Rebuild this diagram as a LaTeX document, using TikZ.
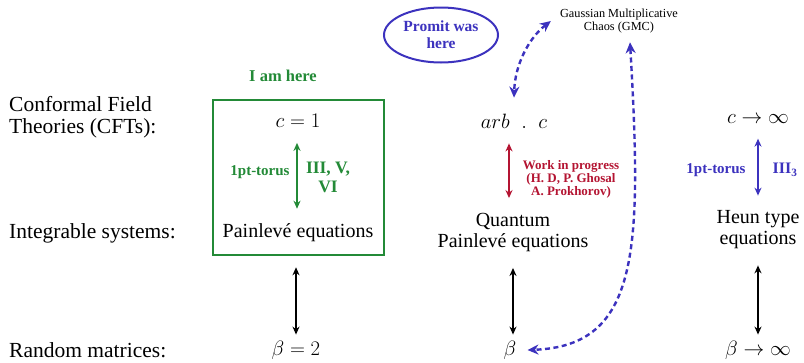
\documentclass[tikz,border=0pt]{standalone}
\usepackage{fontspec}
\setmainfont{Liberation Serif}
\usetikzlibrary{arrows.meta,shapes.geometric}
\definecolor{mygreen}{RGB}{35,138,55}
\definecolor{myred}{RGB}{180,20,50}
\definecolor{myblue}{RGB}{60,50,190}
\tikzset{
  big/.style={font=\fontsize{20}{21}\selectfont, inner sep=0pt, align=center},
  lab/.style={font=\fontsize{21.5}{22}\selectfont, inner sep=0pt, anchor=west, align=left},
  sb/.style={font=\fontsize{15}{16}\selectfont\bfseries, inner sep=0pt, align=center},
  dbl/.style={{Stealth[length=8pt,width=7pt]}-{Stealth[length=8pt,width=7pt]}, line width=1.4pt},
  dashblue/.style={{Stealth[length=11pt,width=10pt]}-{Stealth[length=11pt,width=10pt]}, line width=2.4pt, myblue, dash pattern=on 5pt off 3.5pt},
  greenbox/.style={draw=mygreen, line width=2.8pt}
}
\begin{document}
\begin{tikzpicture}[x=1pt,y=-1pt]
\useasboundingbox (0,0) rectangle (804,362);
% left labels
\node[lab] (cft) at (9,117) {Conformal Field\\Theories (CFTs):};
\node[lab] (int) at (9,233) {Integrable systems:};
\node[lab] (rm) at (9,350) {Random matrices:};
% left column
\draw[greenbox] (213,100) rectangle (384,255);
\node[sb, text=mygreen, font=\fontsize{16.5}{17}\selectfont\bfseries] (here) at (283,76) {I am here};
\node[big] (c1) at (298,121) {$c=1$};
\node[big] (pl) at (298,233) {Painlevé equations};
\node[big] (b2) at (296,350) {$\beta=2$};
\node[sb, text=mygreen] (t1) at (260,172) {1pt-torus};
\node[sb, text=mygreen, font=\fontsize{17.5}{19}\selectfont\bfseries] (p1) at (328,177) {III, V,\\VI};
\draw[dbl, mygreen, shorten <=15pt, shorten >=15pt] ([xshift=-1pt]c1.south) -- ([xshift=-1pt]pl.north);
\draw[dbl, shorten <=25pt, shorten >=6pt] ([xshift=-2pt]pl.south) -- (b2.north);
% middle column
\node[big] (arb) at (514,121) {$arb\;\;.\;\;c$};
\node[big] (qp) at (513,232.5) {Quantum\\Painlevé equations};
\node[big] (beta) at (510,350) {$\beta$};
\node[sb, text=myred, font=\fontsize{13}{13}\selectfont\bfseries] (wip) at (571,179.5) {Work in progress\\(H. D, P. Ghosal\\A. Prokhorov)};
\draw[dbl, myred, shorten <=15pt, shorten >=15pt] ([xshift=-5pt]arb.south) -- ([xshift=-4pt]qp.north);
\draw[dbl, shorten <=16pt, shorten >=6pt] (qp.south) -- ([xshift=3pt]beta.north);
% right column
\node[big] (cinf) at (758,119) {$c\to\infty$};
\node[big] (heun) at (758,230) {Heun type\\equations};
\node[big] (binf) at (758,350) {$\beta\to\infty$};
\node[sb, text=myblue] (t3) at (716,170) {1pt-torus};
\node[sb, text=myblue, font=\fontsize{16}{17}\selectfont\bfseries] (p3) at (785,170) {III$_{\mathbf{3}}$};
\draw[dbl, myblue, shorten <=15pt, shorten >=15pt] (cinf.south) -- (heun.north);
\draw[dbl, shorten <=16pt, shorten >=6pt] (heun.south) -- (binf.north);
% top
\node[ellipse, draw=myblue, line width=2pt, minimum width=114pt, minimum height=55pt, inner sep=0pt, text=myblue, align=center, font=\fontsize{15.5}{17}\selectfont\bfseries] (promit) at (441,35) {Promit was\\here};
\node[font=\fontsize{12.3}{13}\selectfont, inner sep=0pt, align=center] (gmc) at (619,21) {Gaussian Multiplicative\\Chaos (GMC)};
\draw[dashblue] ([xshift=-9pt]gmc.west) .. controls +(-22,17) and +(1,-33) .. ([yshift=16pt]arb.north);
\draw[dashblue] ([xshift=11pt,yshift=-9pt]gmc.south) .. controls +(12,208) and +(112,-4) .. ([xshift=11pt]beta.east);
\end{tikzpicture}
\end{document}
